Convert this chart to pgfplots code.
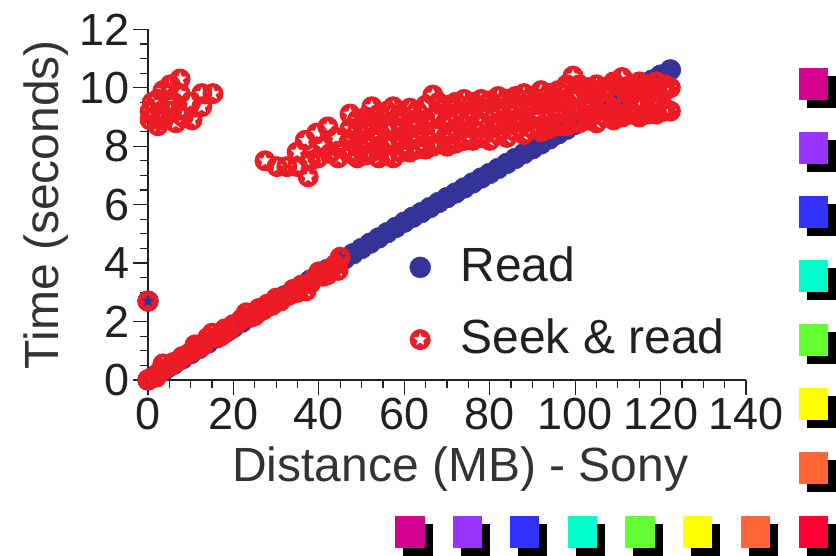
\documentclass[border=0pt]{standalone}
\usepackage{fontspec}
\setmainfont{Liberation Sans}
\usepackage{pgfplots}
\pgfplotsset{compat=1.18}
\definecolor{readblue}{HTML}{333399}
\definecolor{seekred}{HTML}{ED1C24}
\definecolor{axisdark}{HTML}{231F20}
\definecolor{labelgray}{HTML}{333333}
\definecolor{sqA}{HTML}{D4008F}
\definecolor{sqB}{HTML}{9933FF}
\definecolor{sqC}{HTML}{3333FF}
\definecolor{sqD}{HTML}{00FFCC}
\definecolor{sqE}{HTML}{66FF33}
\definecolor{sqF}{HTML}{FFFF00}
\definecolor{sqG}{HTML}{FF6633}
\definecolor{sqH}{HTML}{FF0033}
\pgfdeclareplotmark{starhole}{%
  \pgfpathcircle{\pgfpointorigin}{\pgfplotmarksize}%
  \pgfpathmoveto{\pgfpointpolar{90}{0.68\pgfplotmarksize}}%
  \pgfpathlineto{\pgfpointpolar{126}{0.3\pgfplotmarksize}}%
  \pgfpathlineto{\pgfpointpolar{162}{0.68\pgfplotmarksize}}%
  \pgfpathlineto{\pgfpointpolar{198}{0.3\pgfplotmarksize}}%
  \pgfpathlineto{\pgfpointpolar{234}{0.68\pgfplotmarksize}}%
  \pgfpathlineto{\pgfpointpolar{270}{0.3\pgfplotmarksize}}%
  \pgfpathlineto{\pgfpointpolar{306}{0.68\pgfplotmarksize}}%
  \pgfpathlineto{\pgfpointpolar{342}{0.3\pgfplotmarksize}}%
  \pgfpathlineto{\pgfpointpolar{18}{0.68\pgfplotmarksize}}%
  \pgfpathlineto{\pgfpointpolar{54}{0.3\pgfplotmarksize}}%
  \pgfpathclose
  \pgfseteorule
  \pgfusepathqfill
}
\begin{document}
\begin{tikzpicture}
\path[use as bounding box] (0pt,0pt) rectangle (836pt,556pt);
\begin{axis}[
  at={(148pt,176pt)}, anchor=south west,
  scale only axis, width=598pt, height=350.7pt,
  xmin=0, xmax=140, ymin=0, ymax=12,
  clip=false,
  axis x line*=bottom, axis y line*=left,
  axis line style={axisdark, line width=1.5pt},
  xtick={0,20,...,140}, ytick={0,2,...,12},
  minor x tick num=3, minor y tick num=3,
  tick align=outside,
  major tick length=15pt, minor tick length=8pt,
  every tick/.style={axisdark, line width=1.2pt},
  /pgf/number format/assume math mode=true,
  ticklabel style={font=\fontsize{45}{45}\selectfont, text=axisdark, inner sep=3pt},
  every axis x label/.style={at={(rel axis cs:0.522,-0.2908)}, anchor=base,
    font=\fontsize{48}{48}\selectfont, text=labelgray},
  every axis y label/.style={at={(rel axis cs:-0.1505,0.5)}, anchor=base, rotate=90,
    font=\fontsize{48}{48}\selectfont, text=labelgray},
  xlabel={Distance (MB) - Sony},
  ylabel={Time (seconds)},
  legend style={draw=none, fill=none, at={(rel axis cs:0.437,0.382)}, anchor=north west,
    font=\fontsize{48}{48}\selectfont, text=axisdark, row sep=36pt, inner sep=0pt,
    nodes={inner sep=0pt}},
  legend cell align=left,
  legend image code/.code={\draw[#1] plot coordinates {(10.5pt,-3pt)}; \path (0pt,0pt) (50.5pt,0pt);},
]
\addplot[only marks, mark=*, mark size=10.5pt, mark options={fill=readblue, draw=readblue}, color=readblue]
coordinates {
(0,0) (2,0.18) (4,0.36) (6,0.54) (8,0.72) (10,0.90) (12,1.08) (14,1.26) (16,1.44) (18,1.62)
(20,1.80) (22,1.98) (24,2.16) (26,2.34) (28,2.52) (30,2.70) (32,2.88) (34,3.06) (36,3.24) (38,3.42)
(40,3.60) (42,3.78) (44,3.96) (46,4.14) (48,4.32) (50,4.50) (52,4.68) (54,4.86) (56,5.04) (58,5.22)
(60,5.40) (62,5.57) (64,5.73) (66,5.90) (68,6.07) (70,6.24) (72,6.40) (74,6.57) (76,6.74) (78,6.91)
(80,7.07) (82,7.24) (84,7.41) (86,7.58) (88,7.75) (90,7.91) (92,8.08) (94,8.25) (96,8.42) (98,8.58)
(100,8.75) (102,8.92) (104,9.09) (106,9.26) (108,9.42) (110,9.59) (112,9.76) (114,9.93) (116,10.10)
(118,10.26) (120,10.43) (122.3,10.61) (0,2.7)
};
\addlegendentry{Read}
\addplot[only marks, mark=starhole, mark size=10.5pt, color=seekred]
coordinates {
(0,0) (0.5,0.05) (2,0.1) (2.5,0.25) (3,0.3) (3.5,0.55) (5,0.45) (6,0.6) (7,0.65) (8,0.8) (9,0.85) (10,0.95) (11,1.2)
(12,1.1) (13,1.2) (14,1.45) (15,1.6) (16,1.45) (17,1.5) (18,1.75) (19,1.7) (20,1.9) (21,1.95) (22,2.1) (23,2.3) (24,2.15) (25,2.2) (26,2.45)
(27,2.4) (28,2.6) (29,2.55) (30,2.8) (31,2.7) (32,2.85) (33,2.9) (34,3.1) (35,3.0) (36,3.25) (37,3.05) (38,3.3) (39,3.5) (40,3.7) (41,3.55) (42,3.6)
(43,3.85) (44,3.95) (44.5,3.75) (45,4.2) (0,2.7)
(0.5,9.2) (0.5,8.9) (1,9.5) (2.3,9.6) (2.3,8.7) (2.8,8.9) (3.5,9.9) (5.2,10.1) (5.2,9.2) (6,9.5)
(7.5,10.3) (7.5,9.8) (8.2,9.0) (10.3,8.9) (10,9.5) (12.6,9.35) (12.6,9.8) (15.2,9.8) (4,9.0) (6.5,8.8)
(27.4,7.5) (30.2,7.3) (32.5,7.3) (34.9,7.8) (37.5,6.95) (36.8,8.2) (39.5,8.45) (42.1,8.66) (39.8,7.6)
(42.6,7.75) (44.5,7.6) (35,7.3) (38,7.5) (41,8.0) (44,8.3) (46,7.9)
(47.3,7.75) (47.3,8.2) (47.3,8.6) (47.3,9.1)
(49,7.6) (49,8.0) (49,8.5) (49,8.9)
(51,7.7) (51,8.1) (51,8.6) (51,9.0)
(52.4,7.8) (52.4,8.3) (52.4,8.8) (52.4,9.35)
(54,7.6) (54,8.0) (54,8.5) (54,9.1)
(56,7.7) (56,8.2) (56,8.7) (56,9.2)
(57.4,7.6) (57.4,8.1) (57.4,8.6) (57.4,9.35)
(59,7.8) (59,8.3) (59,8.8) (59,9.1)
(61.3,7.8) (61.3,8.2) (61.3,8.7) (61.3,9.3)
(63,7.9) (63,8.4) (63,8.9) (63,9.2)
(65,7.9) (65,8.3) (65,8.8) (65,9.4)
(66.7,8.0) (66.7,8.5) (66.7,9.0) (66.7,9.75)
(68,8.1) (68,8.6) (68,9.1) (68,9.5)
(70,8.0) (70,8.4) (70,8.9) (70,9.4)
(72,8.1) (72,8.6) (72,9.1) (72,9.5)
(74,8.2) (74,8.7) (74,9.0) (74,9.6)
(76,8.2) (76,8.6) (76,9.2) (76,9.5)
(78,8.3) (78,8.8) (78,9.3) (78,9.6)
(80,8.2) (80,8.7) (80,9.1) (80,9.55)
(82,8.4) (82,8.8) (82,9.3) (82,9.7)
(84,8.3) (84,8.9) (84,9.2) (84,9.6)
(86,8.5) (86,8.9) (86,9.4) (86,9.7)
(88,8.4) (88,8.8) (88,9.3) (88,9.8)
(90,8.6) (90,9.0) (90,9.4) (90,9.7)
(92,8.5) (92,9.0) (92,9.5) (92,9.9)
(94,8.6) (94,9.1) (94,9.5) (94,9.8)
(96,8.7) (96,9.2) (96,9.6) (96,9.9)
(98,8.7) (98,9.1) (98,9.5) (98,10.1)
(99.5,8.8) (99.5,9.3) (99.5,9.8) (99.5,10.4)
(101,8.8) (101,9.2) (101,9.7) (101,10.1)
(103,8.9) (103,9.3) (103,9.8) (103,10.0)
(105,8.8) (105,9.2) (105,9.9) (105,10.1)
(107,9.0) (107,9.3) (107,9.9) (107,10.0)
(109,8.9) (109,9.2) (109,9.8) (109,10.2)
(111,9.0) (111,9.3) (111,10.0) (111,10.35)
(113,9.1) (113,9.2) (113,9.9) (113,10.1)
(115,9.0) (115,9.3) (115,10.0) (115,10.2)
(117,9.1) (117,9.2) (117,9.9) (117,10.1)
(119,9.1) (119,9.3) (119,10.0) (119,10.2)
(121,9.2) (121,9.3) (121,9.9) (121,10.1)
(122.3,9.2) (122.3,10.0)
};
\addlegendentry{Seek \& read}
\end{axis}
\begin{scope}[x=1pt, y=-1pt, shift={(0pt,556pt)}]
  \foreach \yy/\cc in {68/sqA,132/sqB,196/sqC,260/sqD,324/sqE,388/sqF,452/sqG}{
    \fill[black] (807,\yy+8) rectangle ++(29.3,32);
    \fill[\cc] (798.6,\yy) rectangle ++(29.3,32);
  }
  \foreach \xx/\cc in {395.2/sqA,453/sqB,509.7/sqC,567.5/sqD,625.3/sqE,683/sqF,740.8/sqG,798.6/sqH}{
    \fill[black] (\xx+8,524) rectangle ++(29.3,32);
    \fill[\cc] (\xx,516) rectangle ++(29.3,32);
  }
\end{scope}
\end{tikzpicture}
\end{document}
